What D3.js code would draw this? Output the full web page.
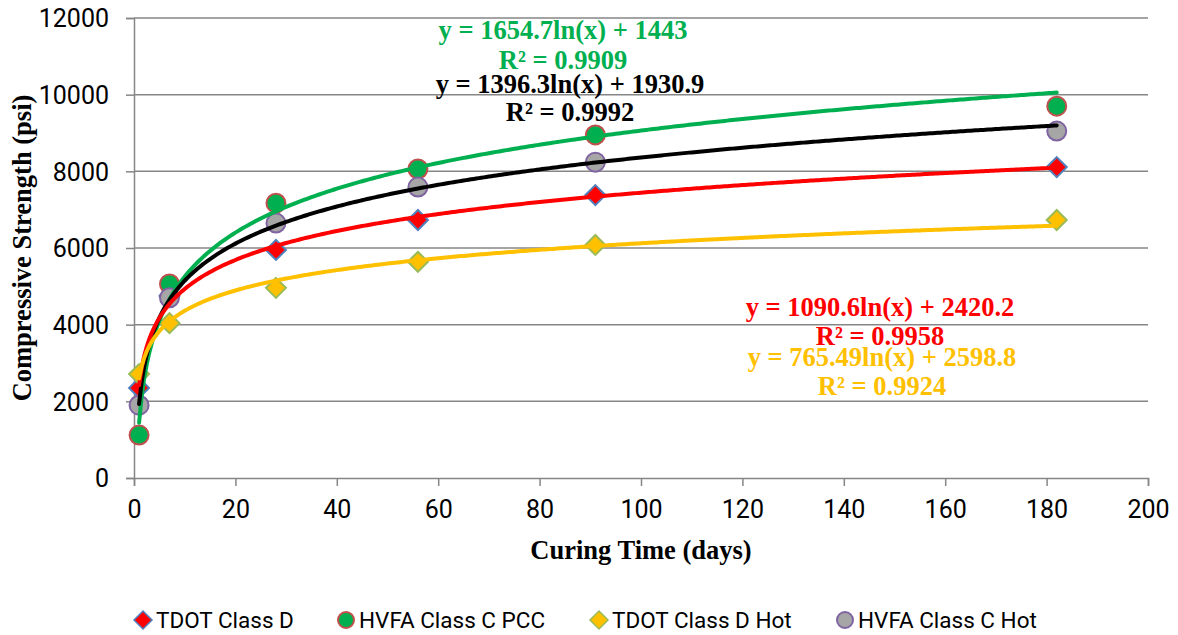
<!DOCTYPE html>
<html><head><meta charset="utf-8">
<script src="https://cdn.jsdelivr.net/npm/d3@7/dist/d3.min.js"></script>
<style>body{margin:0;background:#fff}svg{display:block}</style>
</head><body>
<svg id="c" width="1178" height="635"></svg>
<script>
const days = [1, 7, 28, 56, 91, 182];
const tdotD = [2350, 4750, 5950, 6730, 7380, 8110];
const hvfaPCC = [1120, 5060, 7170, 8060, 8950, 9700];
const tdotDHot = [2710, 4040, 4960, 5640, 6080, 6730];
const hvfaHot = [1900, 4700, 6650, 7590, 8240, 9050];
const seriesNames = ["TDOT Class D", "HVFA Class C PCC", "TDOT Class D Hot", "HVFA Class C Hot"];
const fitA = [1090.6, 1654.7, 765.49, 1396.3];
const fitB = [2420.2, 1443, 2598.8, 1930.9];
const eqLabels = ["y = 1090.6ln(x) + 2420.2", "y = 1654.7ln(x) + 1443", "y = 765.49ln(x) + 2598.8", "y = 1396.3ln(x) + 1930.9"];
const r2Labels = ["R² = 0.9958", "R² = 0.9909", "R² = 0.9924", "R² = 0.9992"];
const xTicks = [0, 20, 40, 60, 80, 100, 120, 140, 160, 180, 200];
const yTicks = [0, 2000, 4000, 6000, 8000, 10000, 12000];

const seriesVals = [tdotD, hvfaPCC, tdotDHot, hvfaHot];
const shapes = ["diamond", "circle", "diamond", "circle"];
const fills = ["#ff0000", "#00b050", "#ffc000", "#a6a6a6"];
const strokes = ["#4f81bd", "#c0504d", "#9bbb59", "#8064a2"];
const lineCols = ["#ff0000", "#00b050", "#ffc000", "#000000"];

const svg = d3.select("#c");
const x = d3.scaleLinear().domain([0, 200]).range([134, 1148]);
const y = d3.scaleLinear().domain([0, 12000]).range([478, 18]);
const tickFont = "Roboto, 'Open Sans', sans-serif";
const legFont = "Roboto, 'Open Sans', sans-serif";
const serif = "'Liberation Serif', 'DejaVu Serif', serif";

// gridlines
svg.append("g").selectAll("line").data(yTicks.slice(1)).join("line")
  .attr("x1", x(0)).attr("x2", x(200)).attr("y1", d => y(d)).attr("y2", d => y(d))
  .attr("stroke", "#868686").attr("stroke-width", 1.5);

// axes
const yAx = svg.append("g").attr("transform", `translate(${x(0)},0)`)
  .call(d3.axisLeft(y).tickValues(yTicks).tickSize(8).tickPadding(17).tickFormat(d3.format("d")));
const xAx = svg.append("g").attr("transform", `translate(0,${y(0)})`)
  .call(d3.axisBottom(x).tickValues(xTicks).tickSize(8).tickPadding(14).tickFormat(d3.format("d")));
[yAx, xAx].forEach(g => {
  g.select(".domain").attr("stroke", "#868686").attr("stroke-width", 1.5);
  g.selectAll(".tick line").attr("stroke", "#868686").attr("stroke-width", 1.5);
  g.selectAll(".tick text").attr("font-family", tickFont).attr("font-size", 25).attr("fill", "#000");
});
yAx.selectAll(".tick text").attr("dy", "0.35em");
xAx.selectAll(".tick text").attr("y", 31).attr("dy", "0.35em");

// markers
const mg = svg.append("g");
seriesVals.forEach((vals, i) => {
  vals.forEach((v, j) => {
    if (shapes[i] === "circle") {
      mg.append("circle").attr("cx", x(days[j])).attr("cy", y(v)).attr("r", 9.5)
        .attr("fill", fills[i]).attr("stroke", strokes[i]).attr("stroke-width", 2);
    } else {
      mg.append("path")
        .attr("d", `M0,-10L10,0L0,10L-10,0Z`)
        .attr("transform", `translate(${x(days[j])},${y(v)})`)
        .attr("fill", fills[i]).attr("stroke", strokes[i]).attr("stroke-width", 2);
    }
  });
});

// trendlines (computed from the stated fit equations)
const line = d3.line().x(d => x(d[0])).y(d => y(d[1]));
const lg = svg.append("g");
[1, 3, 0, 2].forEach(i => {
  const pts = d3.range(1, 182.01, 0.5).map(t => [t, fitA[i] * Math.log(t) + fitB[i]]);
  lg.append("path").attr("d", line(pts)).attr("fill", "none")
    .attr("stroke", lineCols[i]).attr("stroke-width", 4).attr("stroke-linecap", "round");
});

// equation labels
const eqPos = [[880, 307, 336], [563, 30, 60], [882, 357, 386], [570, 84, 112]];
const eqCols = ["#ff0000", "#00b050", "#ffc000", "#000000"];
const eg = svg.append("g").attr("font-family", serif).attr("font-weight", "bold").attr("font-size", 26.5).attr("text-anchor", "middle");
eqPos.forEach((p, i) => {
  eg.append("text").attr("x", p[0]).attr("y", p[1]).attr("dy", "0.33em").attr("fill", eqCols[i]).text(eqLabels[i]);
  eg.append("text").attr("x", p[0]).attr("y", p[2]).attr("dy", "0.33em").attr("fill", eqCols[i]).text(r2Labels[i]);
});

// axis titles
svg.append("text").attr("x", 641).attr("y", 550).attr("dy", "0.35em").attr("text-anchor", "middle")
  .attr("font-family", serif).attr("font-weight", "bold").attr("font-size", 26.5).text("Curing Time (days)");
svg.append("text").attr("transform", "translate(22,248) rotate(-90)").attr("dy", "0.35em").attr("text-anchor", "middle")
  .attr("font-family", serif).attr("font-weight", "bold").attr("font-size", 26.5).text("Compressive Strength (psi)");

// legend
const legX = [143, 346, 599, 845];
const leg = svg.append("g");
seriesNames.forEach((n, i) => {
  const cy = 620;
  if (shapes[i] === "circle") {
    leg.append("circle").attr("cx", legX[i]).attr("cy", cy).attr("r", 8)
      .attr("fill", fills[i]).attr("stroke", strokes[i]).attr("stroke-width", 2);
  } else {
    leg.append("path").attr("d", "M0,-9L9,0L0,9L-9,0Z").attr("transform", `translate(${legX[i]},${cy})`)
      .attr("fill", fills[i]).attr("stroke", strokes[i]).attr("stroke-width", 1.5);
  }
  leg.append("text").attr("x", legX[i] + 13).attr("y", cy).attr("dy", "0.35em")
    .attr("font-family", legFont).attr("font-size", 22.5).text(n);
});
</script>
</body></html>
